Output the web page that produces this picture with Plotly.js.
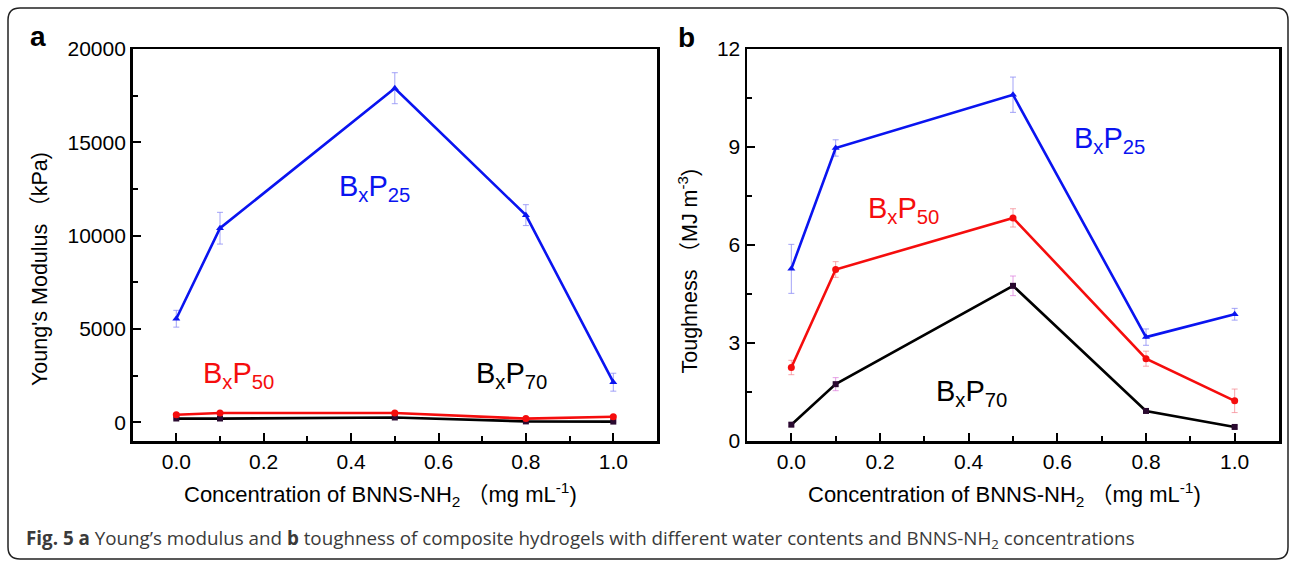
<!DOCTYPE html>
<html>
<head>
<meta charset="utf-8">
<script src="https://cdn.plot.ly/plotly-3.0.1.min.js"></script>
<style>
html,body{margin:0;padding:0;background:#fff;}
#chart{width:1295px;height:563px;}
</style>
</head>
<body>
<div id="chart"></div>
<script>
// ---- data ----
const concentration = [0, 0.1, 0.5, 0.8, 1.0];

const modulusB25 = [5550, 10400, 17900, 11100, 2150];
const modulusB25Err = [450, 850, 830, 560, 480];
const modulusB50 = [410, 500, 500, 200, 300];
const modulusB50Err = [70, 70, 70, 60, 60];
const modulusB70 = [200, 200, 260, 50, 40];
const modulusB70Err = [40, 40, 40, 30, 30];

const toughB25 = [5.27, 8.97, 10.6, 3.18, 3.88];
const toughB25Err = [0.75, 0.25, 0.54, 0.25, 0.18];
const toughB50 = [2.25, 5.25, 6.83, 2.52, 1.23];
const toughB50Err = [0.22, 0.24, 0.28, 0.23, 0.36];
const toughB70 = [0.5, 1.74, 4.75, 0.92, 0.43];
const toughB70Err = [0.05, 0.2, 0.3, 0.05, 0.05];

const xTickVals = [0, 0.2, 0.4, 0.6, 0.8, 1.0];
const xTickText = ['0.0', '0.2', '0.4', '0.6', '0.8', '1.0'];
const yTickValsA = [0, 5000, 10000, 15000, 20000];
const yTickTextA = ['0', '5000', '10000', '15000', '20000'];
const yTickValsB = [0, 3, 6, 9, 12];
const yTickTextB = ['0', '3', '6', '9', '12'];

const seriesNames = ['B<sub>x</sub>P<sub>25</sub>', 'B<sub>x</sub>P<sub>50</sub>', 'B<sub>x</sub>P<sub>70</sub>'];

// ---- helpers ----
const W = 1295, H = 563;
const px = x => x / W;
const py = y => 1 - y / H;
const FONT = '"Liberation Sans", Arial, "Noto Sans CJK SC", sans-serif';

const blue = '#0a14f0', red = '#f50d0d', black = '#000000';

function trace(x, y, err, color, sym, size, errColor, xa, ya, mcolor) {
  return {
    x: x, y: y, type: 'scatter', mode: 'lines+markers',
    xaxis: xa, yaxis: ya, showlegend: false,
    line: {color: color, width: 2.6},
    marker: {symbol: sym, size: size, color: mcolor || color},
    error_y: {type: 'data', array: err, visible: true, color: errColor, thickness: 1, width: 3}
  };
}

const data = [
  trace(concentration, modulusB70, modulusB70Err, black, 'square', 6, 'rgba(220,120,220,0.7)', 'x', 'y', '#2a0a30'),
  trace(concentration, modulusB50, modulusB50Err, red, 'circle', 7, 'rgba(245,130,140,0.7)', 'x', 'y'),
  trace(concentration, modulusB25, modulusB25Err, blue, 'triangle-up', 7, 'rgba(140,140,245,0.8)', 'x', 'y'),
  trace(concentration, toughB70, toughB70Err, black, 'square', 6, 'rgba(220,120,220,0.7)', 'x2', 'y2', '#2a0a30'),
  trace(concentration, toughB50, toughB50Err, red, 'circle', 7, 'rgba(245,130,140,0.7)', 'x2', 'y2'),
  trace(concentration, toughB25, toughB25Err, blue, 'triangle-up', 7, 'rgba(140,140,245,0.8)', 'x2', 'y2')
];

const tickFont = {family: FONT, size: 21, color: '#000'};

function xAxis(domain, anchor) {
  return {
    domain: domain, anchor: anchor, range: [-0.1, 1.1],
    tickmode: 'array', tickvals: xTickVals, ticktext: xTickText,
    ticks: 'inside', ticklen: 8, tickwidth: 2, tickcolor: '#000',
    minor: {ticks: 'inside', ticklen: 5, tickwidth: 2, tickcolor: '#000', dtick: 0.1, tick0: 0, showgrid: false},
    showline: true, linewidth: 2.5, linecolor: '#000', mirror: true,
    showgrid: false, zeroline: false, tickfont: tickFont, fixedrange: true
  };
}
function yAxis(domain, anchor, range, vals, text, minorD) {
  return {
    domain: domain, anchor: anchor, range: range,
    tickmode: 'array', tickvals: vals, ticktext: text,
    ticks: 'inside', ticklen: 8, tickwidth: 2, tickcolor: '#000',
    minor: {ticks: 'inside', ticklen: 5, tickwidth: 2, tickcolor: '#000', dtick: minorD, tick0: 0, showgrid: false},
    showline: true, linewidth: 2.5, linecolor: '#000', mirror: true,
    showgrid: false, zeroline: false, tickfont: tickFont, fixedrange: true
  };
}

const yDom = [py(441), py(49)];

function label(text, x, y, color, size) {
  return {text: text, x: px(x), y: py(y), xref: 'paper', yref: 'paper', showarrow: false,
          xanchor: 'center', yanchor: 'middle', font: {family: FONT, size: size, color: color}};
}

const xTitle = 'Concentration of BNNS-NH<sub>2</sub> （mg mL<sup>-1</sup>)';

const annotations = [
  {text: 'a', x: px(38), y: py(36), xref: 'paper', yref: 'paper', showarrow: false, xanchor: 'center', yanchor: 'middle',
   font: {family: FONT, size: 28, color: '#000', weight: 'bold'}},
  {text: 'b', x: px(686), y: py(37), xref: 'paper', yref: 'paper', showarrow: false, xanchor: 'center', yanchor: 'middle',
   font: {family: FONT, size: 28, color: '#000', weight: 'bold'}},
  label(seriesNames[0], 375, 188, blue, 29),
  label(seriesNames[1], 238, 375, red, 29),
  label(seriesNames[2], 511, 375, black, 29),
  label(seriesNames[0], 1109, 140, blue, 29),
  label(seriesNames[1], 903, 210, red, 29),
  label(seriesNames[2], 971, 393, black, 29),
  label(xTitle, 380, 494, '#000', 22),
  label(xTitle, 1004, 494, '#000', 22),
  {text: 'Young\'s Modulus （kPa)', x: px(40), y: py(388), xref: 'paper', yref: 'paper', showarrow: false,
   textangle: -90, xanchor: 'center', yanchor: 'bottom', font: {family: FONT, size: 21.5, color: '#000'}},
  {text: 'Toughness （MJ m<sup>-3</sup>)', x: px(687), y: py(376), xref: 'paper', yref: 'paper', showarrow: false,
   textangle: -90, xanchor: 'center', yanchor: 'bottom', font: {family: FONT, size: 21.5, color: '#000'}},
  {text: '<b>Fig. 5</b> <b>a</b> Young’s modulus and <b>b</b> toughness of composite hydrogels with different water contents and BNNS-NH<sub>2</sub> concentrations',
   x: px(24), y: py(539), xref: 'paper', yref: 'paper', showarrow: false, xanchor: 'left', yanchor: 'middle',
   font: {family: '"Open Sans", "Noto Sans", sans-serif', size: 18.8, color: '#3a3a3a'}}
];

// rounded outer frame
const L = 8, T = 8, R = 1288, B = 559, rad = 12;
const framePath = `M ${px(L+rad)} ${py(T)} L ${px(R-rad)} ${py(T)} Q ${px(R)} ${py(T)} ${px(R)} ${py(T+rad)} ` +
  `L ${px(R)} ${py(B-rad)} Q ${px(R)} ${py(B)} ${px(R-rad)} ${py(B)} L ${px(L+rad)} ${py(B)} ` +
  `Q ${px(L)} ${py(B)} ${px(L)} ${py(B-rad)} L ${px(L)} ${py(T+rad)} Q ${px(L)} ${py(T)} ${px(L+rad)} ${py(T)} Z`;

const layout = {
  width: W, height: H,
  margin: {l: 0, r: 0, t: 0, b: 0},
  paper_bgcolor: '#fff', plot_bgcolor: '#fff',
  showlegend: false,
  font: {family: FONT},
  xaxis: xAxis([px(132.6), px(657)], 'y'),
  yaxis: yAxis(yDom, 'x', [-1000, 20000], yTickValsA, yTickTextA, 2500),
  xaxis2: xAxis([px(747), px(1279)], 'y2'),
  yaxis2: yAxis(yDom, 'x2', [0, 12], yTickValsB, yTickTextB, 1.5),
  annotations: annotations,
  shapes: [{type: 'path', xref: 'paper', yref: 'paper', path: framePath, line: {color: '#222', width: 1.5}, fillcolor: 'rgba(0,0,0,0)'}]
};

Plotly.newPlot('chart', data, layout, {displayModeBar: false, staticPlot: true});
</script>
</body>
</html>
